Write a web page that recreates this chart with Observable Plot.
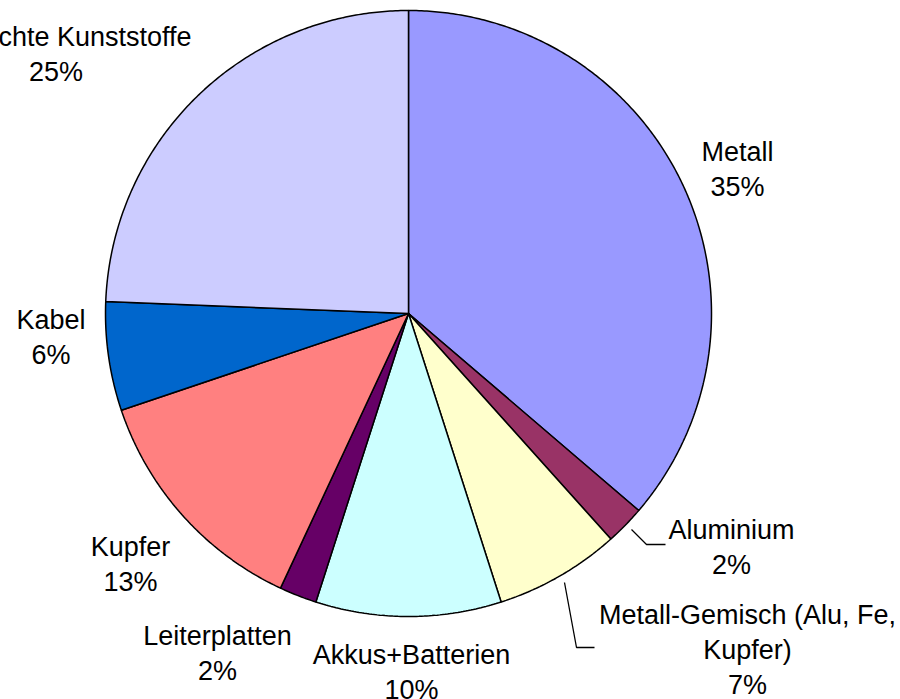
<!DOCTYPE html>
<html>
<head>
<meta charset="utf-8">
<script src="https://cdn.jsdelivr.net/npm/d3@7"></script>
<script src="https://cdn.jsdelivr.net/npm/@observablehq/plot@0.6"></script>
<style>
  html, body { margin: 0; padding: 0; background: white; }
  #chart svg { display: block; }
</style>
</head>
<body>
<div id="chart"></div>
<script>
// ---- data ----
const categories = [
  "Metall",
  "Aluminium",
  "Metall-Gemisch (Alu, Fe, Kupfer)",
  "Akkus+Batterien",
  "Leiterplatten",
  "Kupfer",
  "Kabel",
  "Gemischte Kunststoffe"
];
const values = [36.3, 2.1, 6.7, 9.9, 2.0, 12.9, 5.8, 24.4];
// percentage texts as printed on the chart
const percentLabels = ["35%", "2%", "7%", "10%", "2%", "13%", "6%", "25%"];
// category text as printed (with line breaks)
const labelLines = [
  "Metall",
  "Aluminium",
  "Metall-Gemisch (Alu, Fe,\nKupfer)",
  "Akkus+Batterien",
  "Leiterplatten",
  "Kupfer",
  "Kabel",
  "Gemischte Kunststoffe"
];
const colors = ["#9999FF", "#993366", "#FFFFCC", "#CCFFFF", "#660066", "#FF8080", "#0066CC", "#CCCCFF"];

// ---- layout ----
const W = 900, H = 699;
const cx = 408, cy = 313, R = 303;
const labelPos = [
  [737, 166.5],
  [731, 545],
  [747, 647],
  [411, 670],
  [217, 650.5],
  [130, 561.5],
  [50.5, 335],
  [55.5, 51.5]
];
const leaders = [
  {name: "Aluminium", pts: [[631, 529], [646, 544], [665, 544]]},
  {name: "Metall-Gemisch", pts: [[564, 582], [576, 647], [594, 647]]}
];

// ---- build slices from the values ----
const total = d3.sum(values);
const slicePoints = [];
let acc = 0;
categories.forEach((name, i) => {
  const a0 = acc / total * 2 * Math.PI;
  acc += values[i];
  const a1 = acc / total * 2 * Math.PI;
  slicePoints.push({name, x: cx, y: cy});
  const n = Math.max(2, Math.ceil((a1 - a0) / (Math.PI / 360)));
  for (let k = 0; k <= n; k++) {
    const a = a0 + (a1 - a0) * k / n;
    slicePoints.push({name, x: cx + R * Math.sin(a), y: cy - R * Math.cos(a)});
  }
});

const labels = categories.map((name, i) => ({
  name,
  text: labelLines[i] + "\n" + percentLabels[i],
  x: labelPos[i][0],
  y: labelPos[i][1]
}));

const leaderPoints = leaders.flatMap(l => l.pts.map(([x, y]) => ({name: l.name, x, y})));

const chart = Plot.plot({
  width: W,
  height: H,
  margin: 0,
  x: {domain: [0, W], range: [0, W], axis: null},
  y: {domain: [0, H], range: [0, H], axis: null},
  color: {domain: categories, range: colors},
  style: {fontFamily: "'Liberation Sans', Arial, sans-serif", background: "white", overflow: "hidden"},
  marks: [
    Plot.line(slicePoints, {
      x: "x", y: "y", z: "name",
      fill: "name",
      stroke: "black",
      strokeWidth: 1.5,
      strokeLinejoin: "miter",
      curve: "linear-closed"
    }),
    Plot.line(leaderPoints, {
      x: "x", y: "y", z: "name",
      stroke: "black",
      strokeWidth: 1.3,
      strokeLinecap: "butt",
      strokeLinejoin: "miter"
    }),
    Plot.text(labels, {
      x: "x", y: "y", text: "text",
      textAnchor: "middle",
      lineAnchor: "middle",
      lineHeight: 1.3,
      fontSize: 27,
      fill: "black"
    })
  ]
});

document.getElementById("chart").appendChild(chart);
</script>
</body>
</html>
